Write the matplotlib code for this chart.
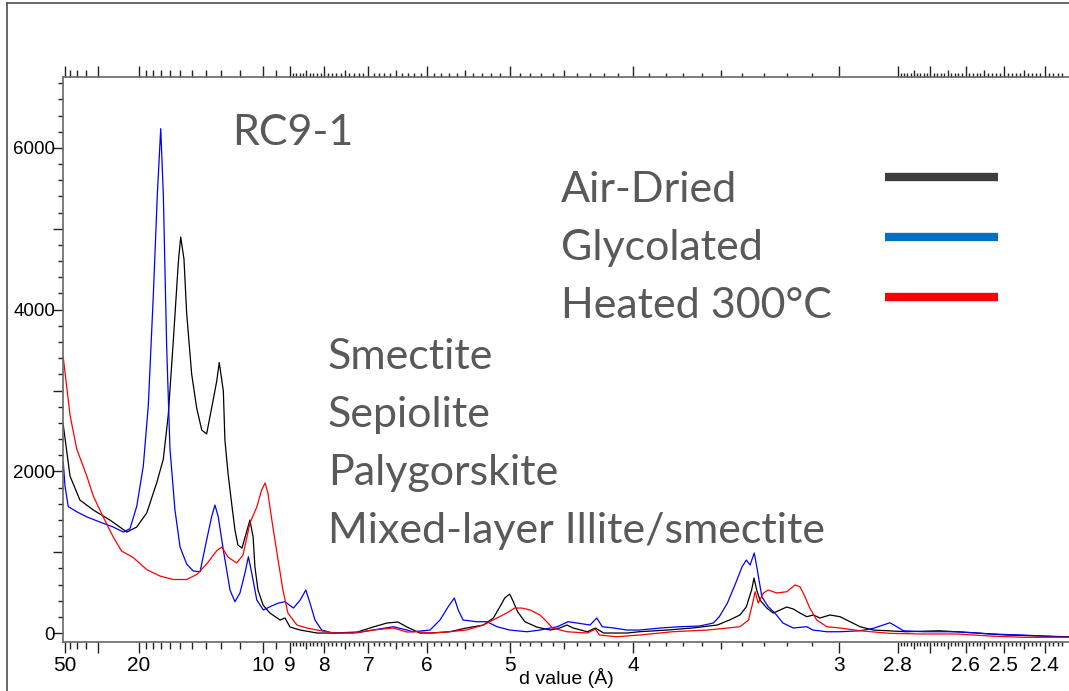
import matplotlib
matplotlib.use("Agg")
import matplotlib.pyplot as plt
from matplotlib.lines import Line2D
from matplotlib.ticker import MultipleLocator
import numpy as np


# Air-dried pattern: d spacing (A) and counts
d_air = [51.8, 45.4, 38.4, 31.8, 26.2, 22.2, 20.4, 18.84, 17.51, 16.72, 16.18, 15.66, 15.18, 14.96, 14.67,
         14.44, 14.03, 13.64, 13.27, 12.93, 12.60, 12.28, 12.13, 11.89, 11.80, 11.63, 11.41, 11.26, 11.11,
         10.91, 10.67, 10.54, 10.40, 10.32, 10.19, 9.98, 9.71, 9.34, 9.17, 9.00, 8.68, 8.19, 7.78, 7.23,
         6.91, 6.65, 6.46, 6.31, 6.11, 5.96, 5.69, 5.48, 5.28, 5.17, 5.10, 5.05, 5.00, 4.97, 4.92, 4.85,
         4.74, 4.62, 4.54, 4.48, 4.43, 4.32, 4.26, 4.20, 4.04, 3.96, 3.79, 3.65, 3.52, 3.46, 3.41, 3.38,
         3.356, 3.345, 3.333, 3.318, 3.288, 3.260, 3.231, 3.203, 3.176, 3.149, 3.122, 3.096, 3.071, 3.033,
         2.996, 2.960, 2.925, 2.880, 2.772, 2.675, 2.580, 2.492, 2.412, 2.345]
i_air = [2573, 1942, 1645, 1522, 1398, 1249, 1311, 1484, 1856, 2152, 2697, 3618, 4583, 4899, 4626,
         3958, 3204, 2783, 2511, 2462, 2783, 3117, 3346, 2994, 2387, 1979, 1559, 1274, 1089,
         1051, 1274, 1398, 1188, 816, 532, 346, 247, 161, 186, 74, 37, 0, 0, 12,
         74, 124, 136, 74, 0, 0, 16, 62, 99, 186, 325, 433, 482, 408, 263, 140,
         74, 37, 62, 99, 62, 16, 62, 0, 0, 16, 37, 62, 99, 161, 223, 325,
         532, 680, 532, 408, 309, 247, 285, 322, 297, 247, 202, 223, 186, 223,
         202, 140, 78, 37, 16, 28, 4, -25, -37, -46]

# Glycolated pattern
d_gly = [51.8, 50.0, 46.9, 40.4, 34.7, 29.3, 25.3, 22.9, 21.6, 20.4, 19.34, 18.61, 17.94, 17.43, 17.02,
         16.72, 16.35, 16.00, 15.50, 15.02, 14.44, 13.90, 13.39, 12.93, 12.60, 12.39, 12.19, 11.89, 11.52,
         11.26, 11.01, 10.77, 10.61, 10.46, 10.24, 9.97, 9.71, 9.40, 9.17, 8.89, 8.68, 8.51, 8.39, 8.25,
         8.07, 7.78, 7.23, 6.91, 6.54, 6.31, 6.22, 5.96, 5.82, 5.71, 5.63, 5.58, 5.52, 5.36, 5.24, 5.13,
         5.00, 4.83, 4.71, 4.56, 4.47, 4.40, 4.30, 4.25, 4.21, 4.13, 4.04, 3.96, 3.83, 3.72, 3.61, 3.54,
         3.51, 3.47, 3.43, 3.40, 3.38, 3.363, 3.344, 3.330, 3.310, 3.282, 3.253, 3.219, 3.176, 3.122,
         3.098, 3.045, 2.996, 2.925, 2.880, 2.847, 2.825, 2.803, 2.782, 2.721, 2.625, 2.535, 2.452, 2.345]
i_gly = [2109, 1818, 1564, 1500, 1437, 1373, 1311, 1249, 1291, 1564, 2066, 2820, 4169, 5422, 6239,
         5422, 3538, 2276, 1522, 1064, 854, 767, 758, 1150, 1439, 1583, 1439, 1027, 532,
         387, 495, 742, 944, 742, 408, 285, 325, 371, 387, 309, 408, 532, 371, 161,
         37, 0, 4, 37, 78, 37, 16, 37, 161, 325, 433, 285, 161, 140, 140, 78,
         37, 16, 37, 78, 140, 124, 99, 186, 78, 62, 37, 37, 62, 78, 87, 124,
         202, 371, 618, 820, 903, 841, 990, 779, 449, 325, 247, 124, 62, 78,
         37, 16, 16, 28, 58, 99, 127, 78, 28, 16, 16, -12, -25, -53]

# Heated 300 C pattern
d_heat = [51.8, 45.4, 40.4, 34.7, 31.8, 28.2, 25.3, 23.3, 21.0, 18.84, 17.11, 15.66, 14.44, 13.64, 12.93,
          12.28, 11.98, 11.63, 11.17, 10.86, 10.54, 10.24, 10.04, 9.90, 9.79, 9.60, 9.41, 9.24, 9.07,
          8.78, 8.48, 8.19, 7.78, 7.32, 6.91, 6.54, 6.31, 6.16, 5.92, 5.69, 5.48, 5.28, 5.13, 5.03,
          4.95, 4.88, 4.80, 4.71, 4.65, 4.60, 4.48, 4.32, 4.26, 4.23, 4.11, 3.96, 3.76, 3.57, 3.47,
          3.41, 3.37, 3.351, 3.340, 3.326, 3.303, 3.282, 3.245, 3.203, 3.169, 3.149, 3.129, 3.110,
          3.083, 3.045, 2.996, 2.925, 2.825, 2.721, 2.625, 2.535, 2.452, 2.345]
i_heat = [3408, 2697, 2276, 1942, 1695, 1435, 1188, 1014, 934, 785, 705, 662, 662, 724, 854,
          1018, 1064, 940, 866, 965, 1361, 1559, 1769, 1856, 1732, 1311, 903, 532, 247,
          99, 62, 37, 0, 0, 37, 62, 12, 16, 0, 16, 37, 99, 186, 247,
          309, 309, 285, 223, 140, 62, 16, 0, 49, -25, -46, -25, 16, 37, 62,
          78, 161, 371, 511, 371, 495, 532, 495, 511, 594, 573, 449, 309,
          161, 78, 62, 28, -4, -12, -12, -37, -53, -53]

series_names = ["Air-Dried", "Glycolated", "Heated 300°C"]
mineral_names = ["Smectite", "Sepiolite", "Palygorskite", "Mixed-layer Illite/smectite"]
sample_name = "RC9-1"

# d-value tick marks
major_d = [50, 30, 20, 10, 9, 8, 7, 6, 5, 4, 3, 2.8, 2.7, 2.6, 2.5, 2.4]
labelled_d = [50, 20, 10, 9, 8, 7, 6, 5, 4, 3, 2.8, 2.6, 2.5, 2.4]
medium_d = [45, 40, 35] + list(range(19, 10, -1)) + [9.5, 8.5, 7.5, 6.5, 5.5, 4.5, 3.5, 2.75, 2.65, 2.55, 2.45]
tenths = [v / 10 for v in range(31, 90) if v % 5 != 0]
hundredths = [v / 100 for v in range(235, 280) if v % 5 != 0]
minor_d = tenths + hundredths

W, H = 1069, 691
fig = plt.figure(figsize=(W / 100, H / 100), dpi=100)
ax = fig.add_axes([63 / W, (H - 642) / H, (W - 63) / W, (642 - 77) / H])

# x axis is linear in 1/d
ax.plot(1 / np.array(d_air), i_air, color="black", lw=0.9)
ax.plot(1 / np.array(d_gly), i_gly, color="blue", lw=0.9)
ax.plot(1 / np.array(d_heat), i_heat, color="red", lw=0.9)

ax.set_xlim((63 - 15.6) / 2470, (1069 - 15.6) / 2470)
ax.set_ylim(-111, 6878)

tick_font = "Liberation Sans"
ax.set_xticks(1 / np.array(major_d))
ax.set_xticklabels([f"{v:g}" if v in labelled_d else "" for v in major_d], family=tick_font, fontsize=15)
ax.set_xticks(1 / np.array(minor_d), minor=True)
ax.tick_params(axis="x", which="major", length=8, width=1, color="#222222", top=True, labeltop=False, pad=2)
ax.tick_params(axis="x", which="minor", length=3, width=1, color="#222222", top=True)

for loc in ("bottom", "top"):
    sec = ax.secondary_xaxis(loc)
    sec.set_xticks(1 / np.array(medium_d))
    sec.tick_params(length=5, width=1, color="#222222", labelbottom=False, labeltop=False)
    sec.spines[loc].set_visible(False)

ax.set_yticks(np.arange(0, 7000, 1000))
ax.set_yticklabels([str(v) if v % 2000 == 0 else "" for v in range(0, 7000, 1000)], family=tick_font, fontsize=13.5)
ax.yaxis.set_minor_locator(MultipleLocator(200))
ax.tick_params(axis="y", which="major", length=7.2, width=1, color="#222222", pad=-1.5)
ax.tick_params(axis="y", which="minor", length=3.6, width=1, color="#222222")

ax.set_xlabel("d value (Å)", family=tick_font, fontsize=14, labelpad=-5)

for side in ("left", "top", "bottom"):
    ax.spines[side].set_color("#666666")
    ax.spines[side].set_linewidth(1.2)
ax.spines["right"].set_visible(False)

# frame lines on the page
fig.add_artist(Line2D([7 / W, 7 / W], [0, 1 - 3 / H], transform=fig.transFigure, color="#4d4d4d", lw=1.2))
fig.add_artist(Line2D([7 / W, 1], [1 - 3 / H, 1 - 3 / H], transform=fig.transFigure, color="#4d4d4d", lw=1.2))

text_style = dict(family="Lato", fontsize=31, color="#595959", va="baseline")
fig.text(232 / W, 1 - 145 / H, sample_name, **text_style)

swatch_colors = ["#3d3d3d", "#0070c0", "#ff0000"]
for k, (name, col) in enumerate(zip(series_names, swatch_colors)):
    base = 202 + 58 * k
    fig.text(561 / W, 1 - base / H, name, **text_style)
    y_line = 1 - (177 + 60 * k) / H
    fig.add_artist(Line2D([885 / W, 998 / W], [y_line, y_line], transform=fig.transFigure,
                          color=col, lw=6, solid_capstyle="butt"))

for k, name in enumerate(mineral_names):
    base = 369 + 58 * k
    fig.text(328 / W, 1 - base / H, name, **text_style)

fig.savefig("out.png", dpi=100)
